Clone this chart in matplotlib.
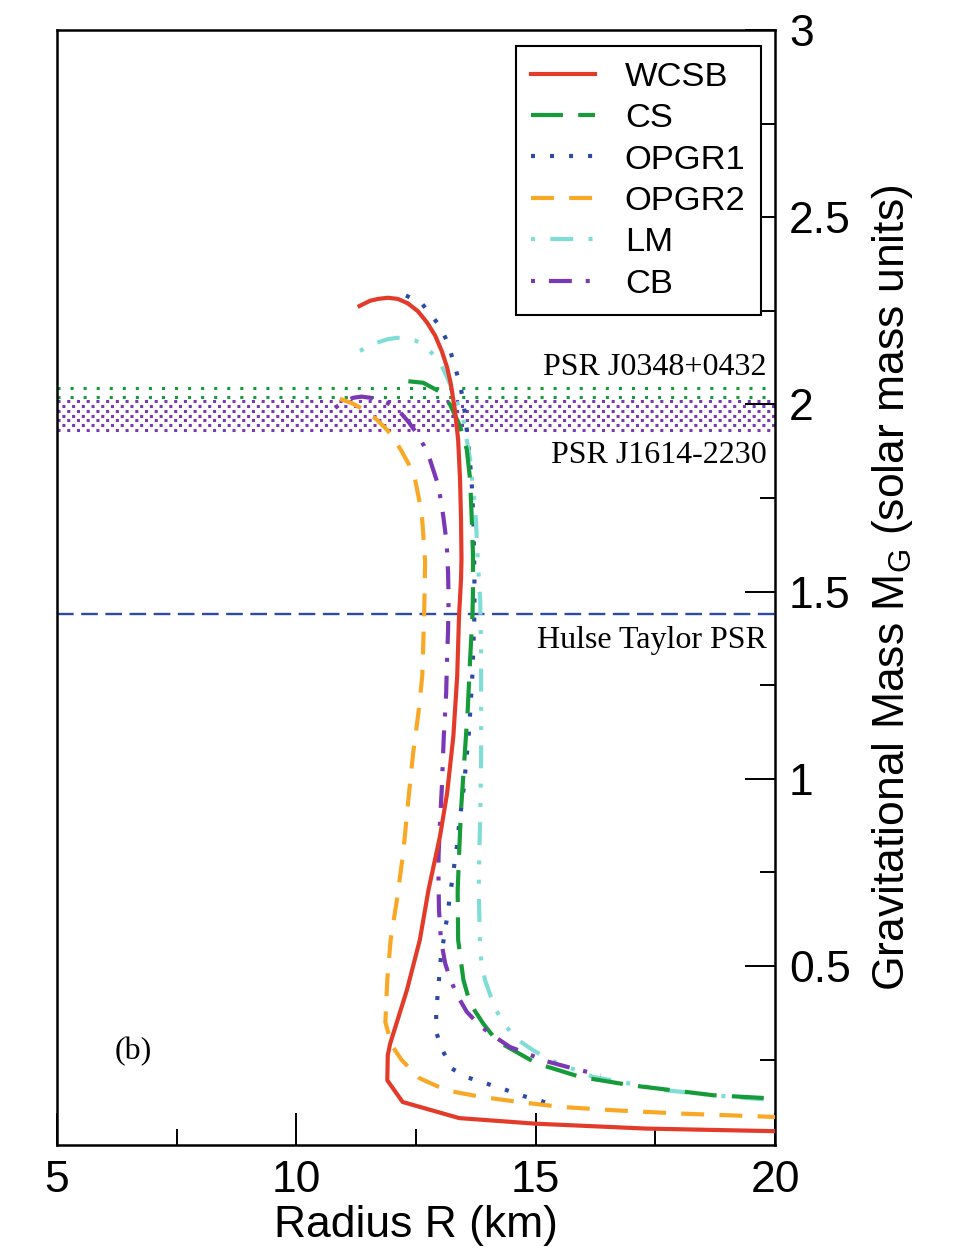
import numpy as np
import matplotlib
matplotlib.use("Agg")
import matplotlib.pyplot as plt
from matplotlib.ticker import MultipleLocator

plt.rcParams['font.family'] = ['Liberation Sans', 'DejaVu Sans']
plt.rcParams['lines.scale_dashes'] = False

# ---- mass-radius curves: radius (km), gravitational mass (solar masses) ----
wcsb_r = [11.32, 11.54, 11.71, 11.91, 12.12, 12.33, 12.54, 12.73, 12.90, 13.04, 13.15,
          13.23, 13.31, 13.38, 13.42, 13.44, 13.45, 13.44, 13.40, 13.36, 13.28, 13.15,
          13.00, 12.76, 12.58, 12.31, 12.10, 11.96, 11.91, 11.90, 12.22, 13.40, 15.00,
          17.30, 20.00]
wcsb_m = [2.263, 2.277, 2.282, 2.285, 2.282, 2.270, 2.249, 2.219, 2.184, 2.142, 2.099,
          2.053, 1.987, 1.906, 1.800, 1.693, 1.586, 1.532, 1.439, 1.274, 1.114, 0.962,
          0.846, 0.703, 0.570, 0.436, 0.350, 0.293, 0.262, 0.195, 0.137, 0.094, 0.079,
          0.066, 0.059]

cs_r = [12.34, 12.65, 12.97, 13.21, 13.42, 13.56, 13.63, 13.66, 13.69, 13.69, 13.68,
        13.63, 13.58, 13.51, 13.44, 13.40, 13.37, 13.38, 13.49, 13.63, 13.90, 14.19,
        15.02, 15.93, 16.97, 18.71, 20.00]
cs_m = [2.062, 2.058, 2.036, 2.000, 1.942, 1.880, 1.800, 1.710, 1.600, 1.500, 1.440,
        1.318, 1.184, 1.051, 0.917, 0.800, 0.700, 0.570, 0.463, 0.400, 0.347, 0.300,
        0.240, 0.204, 0.182, 0.155, 0.146]

opgr1_r = [12.29, 12.62, 13.00, 13.17, 13.31, 13.43, 13.52, 13.59, 13.66, 13.70, 13.72,
           13.72, 13.68, 13.61, 13.50, 13.40, 13.36, 13.25, 13.14, 13.02, 12.95, 12.92,
           12.93, 13.07, 13.25, 13.59, 13.98, 14.36, 14.74, 15.11, 15.49]
opgr1_m = [2.291, 2.270, 2.209, 2.163, 2.102, 2.049, 1.978, 1.898, 1.800, 1.693, 1.541,
           1.439, 1.283, 1.131, 0.979, 0.877, 0.825, 0.725, 0.623, 0.523, 0.421, 0.370,
           0.320, 0.271, 0.226, 0.202, 0.186, 0.170, 0.153, 0.140, 0.122]

opgr2_r = [10.91, 11.15, 11.40, 11.65, 11.89, 12.05, 12.20, 12.35, 12.48, 12.62, 12.69,
           12.67, 12.63, 12.55, 12.44, 12.34, 12.23, 12.10, 11.97, 11.90, 11.86, 11.99,
           12.20, 12.58, 13.14, 13.84, 14.53, 15.51, 16.62, 18.02, 20.00]
opgr2_m = [2.015, 2.004, 1.987, 1.963, 1.933, 1.907, 1.875, 1.840, 1.800, 1.710, 1.580,
           1.439, 1.274, 1.176, 1.069, 0.944, 0.800, 0.676, 0.570, 0.463, 0.350, 0.289,
           0.249, 0.200, 0.168, 0.151, 0.139, 0.124, 0.115, 0.106, 0.097]

lm_r = [11.33, 11.50, 11.68, 11.90, 12.10, 12.30, 12.48, 12.65, 12.79, 12.92, 13.04,
        13.17, 13.35, 13.49, 13.56, 13.63, 13.70, 13.75, 13.80, 13.84, 13.86, 13.86,
        13.86, 13.84, 13.82, 13.81, 13.82, 13.84, 13.94, 14.15, 14.36, 14.60, 14.95,
        15.30, 16.20, 17.74, 19.06, 20.00]
lm_m = [2.143, 2.156, 2.165, 2.174, 2.178, 2.177, 2.171, 2.160, 2.143, 2.124, 2.102,
        2.067, 2.009, 1.960, 1.906, 1.853, 1.764, 1.693, 1.559, 1.479, 1.354, 1.202,
        1.051, 0.890, 0.790, 0.700, 0.650, 0.534, 0.463, 0.387, 0.342, 0.305, 0.275,
        0.249, 0.204, 0.168, 0.151, 0.142]

cb_r = [10.81, 11.00, 11.19, 11.36, 11.54, 11.72, 11.89, 12.03, 12.17, 12.34, 12.51,
        12.66, 12.79, 12.97, 13.07, 13.14, 13.17, 13.18, 13.17, 13.15, 13.13, 13.08,
        13.04, 12.99, 12.97, 12.97, 12.98, 13.02, 13.11, 13.20, 13.35, 13.56, 13.84,
        14.15, 14.46, 14.81, 15.19, 15.65, 15.99, 16.36]
cb_m = [1.991, 2.008, 2.018, 2.021, 2.018, 2.013, 2.005, 1.994, 1.979, 1.954, 1.924,
        1.891, 1.853, 1.782, 1.701, 1.630, 1.550, 1.479, 1.398, 1.327, 1.229, 1.113,
        0.979, 0.855, 0.792, 0.725, 0.650, 0.570, 0.507, 0.471, 0.424, 0.378, 0.340,
        0.311, 0.284, 0.267, 0.247, 0.231, 0.220, 0.209]

# ---- observed pulsar masses ----
psr_names = ['PSR J0348+0432', 'PSR J1614-2230']
psr_mass = [2.01, 1.97]
psr_err = [0.04, 0.04]
hulse_name = 'Hulse Taylor PSR'
hulse_mass = 1.44

# ---- figure ----
fig = plt.figure(figsize=(9.63, 12.48), dpi=100)
ax = fig.add_axes([0.0592, 0.0825, 0.7456, 0.8934])
ax.set_xlim(5, 20)
ax.set_ylim(0.022, 3.0)

# pulsar mass bands drawn as rows of square dots
lo0, hi0 = psr_mass[0] - psr_err[0], psr_mass[0] + psr_err[0]
for y in np.linspace(lo0 + 0.007, hi0 - 0.007, 4):
    ax.hlines(y, 5, 20, colors='#169b3a', linewidth=2.2,
              linestyles=[(0, (2.2, 7.2))], zorder=1)
lo1, hi1 = psr_mass[1] - psr_err[1], psr_mass[1] + psr_err[1]
ax.axhspan(lo1, hi1, color='white', lw=0, zorder=1.5)
for i, y in enumerate(np.linspace(lo1 + 0.002, hi1 - 0.002, 7)):
    ax.hlines(y, 5, 20, colors='#7a37b6', linewidth=2.2,
              linestyles=[(3.5 * (i % 2), (2.2, 4.8))], zorder=2)

ax.axhline(hulse_mass, color='#2d4ba5', lw=1.7, linestyle=(0, (12, 5.4)), zorder=2)

lw = 3.0
ax.plot(wcsb_r, wcsb_m, color='#e33b2a', lw=lw, label='WCSB', zorder=8,
        solid_joinstyle='round')
ax.plot(cs_r, cs_m, color='#169b3a', lw=lw, label='CS',
        linestyle=(0, (23, 11)), zorder=5)
ax.plot(opgr1_r, opgr1_m, color='#2d4ba5', lw=lw, label='OPGR1',
        linestyle=(0, (2.9, 10.8)), zorder=4)
ax.plot(opgr2_r, opgr2_m, color='#f9a825', lw=lw, label='OPGR2',
        linestyle=(0, (16.5, 11)), zorder=6)
ax.plot(lm_r, lm_m, color='#80ddd6', lw=lw, label='LM',
        linestyle=(41.4, (16.5, 11, 2.9, 11, 2.9, 11)), zorder=4.5)
ax.plot(cb_r, cb_m, color='#7a37b6', lw=lw, label='CB',
        linestyle=(26.5, (16.5, 10, 2.9, 10)), zorder=7)

serif = ['Liberation Serif', 'DejaVu Serif']
ax.text(19.83, 2.100, psr_names[0], ha='right', va='center', fontsize=23, family=serif)
ax.text(19.83, 1.864, psr_names[1], ha='right', va='center', fontsize=23, family=serif)
ax.text(19.83, 1.370, hulse_name, ha='right', va='center', fontsize=23, family=serif)
ax.text(6.59, 0.272, '(b)', ha='center', va='center', fontsize=23, family=serif)

# axes styling
for s in ax.spines.values():
    s.set_linewidth(1.8)
ax.xaxis.set_major_locator(MultipleLocator(5))
ax.xaxis.set_minor_locator(MultipleLocator(2.5))
ax.yaxis.set_major_locator(MultipleLocator(0.5))
ax.yaxis.set_minor_locator(MultipleLocator(0.25))
ax.yaxis.tick_right()
ax.tick_params(axis='x', which='both', direction='in', top=False, bottom=True,
               labelsize=32, pad=11, width=1.4)
ax.tick_params(axis='y', which='both', direction='in', left=False, right=True,
               labelleft=False, labelright=True, labelsize=32, pad=10, width=1.4)
ax.tick_params(axis='x', which='major', length=23)
ax.tick_params(axis='x', which='minor', length=11.5)
ax.tick_params(axis='y', which='major', length=21.5)
ax.tick_params(axis='y', which='minor', length=10.8)
ax.set_yticks([0.5, 1, 1.5, 2, 2.5, 3])
ax.set_yticklabels(['0.5', '1', '1.5', '2', '2.5', '3'])

ax.set_xlabel('Radius R (km)', fontsize=32)
ax.xaxis.set_label_coords(0.5, -0.0722)
ax.xaxis.label.set_va('center')
ax.yaxis.set_label_position('right')
ax.set_ylabel(r'Gravitational Mass M$_{\mathregular{G}}$ (solar mass units)', fontsize=32)
ax.yaxis.label.set_va('center')
ax.yaxis.set_label_coords(1.164, 0.5)

leg = ax.legend(loc='upper right', bbox_to_anchor=(0.9805, 0.9857), borderaxespad=0,
                fontsize=24.8, handlelength=1.86, handletextpad=0.86, borderpad=0.45,
                labelspacing=0.30, fancybox=False, framealpha=1, edgecolor='black')
leg.get_frame().set_linewidth(1.5)

fig.savefig('out.png', dpi=100, facecolor='white')
